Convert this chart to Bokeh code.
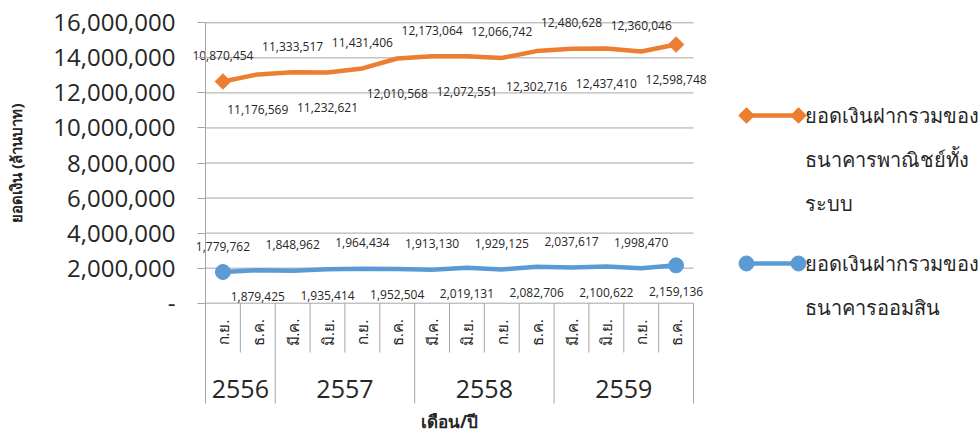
import numpy as np
from bokeh.plotting import figure
from bokeh.models import Range1d, FixedTicker, CustomJSTickFormatter, ColumnDataSource, LinearAxis
from bokeh.core.properties import value
from bokeh.embed import file_html
from bokeh.resources import INLINE

# ---------------- data ----------------
months = ["ก.ย.", "ธ.ค.",
          "มี.ค.", "มิ.ย.", "ก.ย.", "ธ.ค.",
          "มี.ค.", "มิ.ย.", "ก.ย.", "ธ.ค.",
          "มี.ค.", "มิ.ย.", "ก.ย.", "ธ.ค."]
years = ["2556", "2557", "2558", "2559"]
months_per_year = [2, 4, 4, 4]
commercial = [10870454, 11176569, 11333517, 11232621, 11431406, 12010568, 12173064,
              12072551, 12066742, 12302716, 12480628, 12437410, 12360046, 12598748]
gsb = [1779762, 1879425, 1848962, 1935414, 1964434, 1952504, 1913130,
       2019131, 1929125, 2082706, 2037617, 2100622, 1998470, 2159136]
y_ticks = [0, 2000000, 4000000, 6000000, 8000000, 10000000, 12000000, 14000000, 16000000]
series_commercial = ["ยอดเงินฝากรวมของ", "ธนาคารพาณิชย์ทั้ง", "ระบบ"]
series_gsb = ["ยอดเงินฝากรวมของ", "ธนาคารออมสิน"]
y_title = "ยอดเงิน (ล้านบาท)"
x_title = "เดือน/ปี"

# ---------------- style / layout ----------------
ORANGE = "#ED7D31"
BLUE = "#5B9BD5"
GRID = "#a6a6a6"
TEXT = "#262626"
FONT = "Open Sans"

W, H = 979, 436
AXIS_X = 205.0        # pixel of the value axis
RIGHT_X = 693.0       # pixel of the right end of the categories
TOP_Y = 22.3          # pixel of the top tick
ZERO_Y = 302.7        # pixel of zero
BOTTOM_Y = 403.0      # pixel of the bottom of the category boxes
n = len(months)
CAT_W = (RIGHT_X - AXIS_X) / n
Y_MAX = y_ticks[-1]
ppy = (ZERO_Y - TOP_Y) / Y_MAX


def dx(px):
    return (px - AXIS_X) / CAT_W - 0.5


def dy(py):
    return (ZERO_Y - py) / ppy


p = figure(width=W, height=H, x_range=Range1d(dx(0), dx(W)), y_range=Range1d(dy(H), dy(0)),
           output_backend="svg", toolbar_location=None, x_axis_location=None,
           y_axis_location=None, min_border=0)
p.outline_line_color = None
p.xgrid.grid_line_color = None
p.ygrid.grid_line_color = None

x_left = -0.5
x_right = n - 0.5
y_floor = dy(BOTTOM_Y)

# value axis (library axis placed at the category start)
yax = LinearAxis(fixed_location=x_left, bounds=(0, Y_MAX), ticker=FixedTicker(ticks=y_ticks),
                 formatter=CustomJSTickFormatter(
                     code="return tick == 0 ? '-' : Number(tick).toLocaleString('en-US');"))
yax.major_label_text_font = FONT
yax.major_label_text_font_size = "24px"
yax.major_label_text_color = TEXT
yax.major_tick_out = 8
yax.major_tick_in = 0
yax.minor_tick_line_color = None
yax.major_tick_line_color = GRID
yax.axis_line_color = GRID
yax.major_label_standoff = 22
yax.axis_label = y_title
yax.axis_label_text_font = FONT
yax.axis_label_text_font_size = "15px"
yax.axis_label_text_font_style = "bold"
yax.axis_label_text_color = TEXT
yax.axis_label_standoff = 24
p.add_layout(yax, "left")

# category axis title
xax = LinearAxis(fixed_location=y_floor, bounds=(x_left, x_right), ticker=FixedTicker(ticks=[]))
xax.axis_line_color = None
xax.major_tick_line_color = None
xax.minor_tick_line_color = None
xax.axis_label = x_title
xax.axis_label_text_font = FONT
xax.axis_label_text_font_size = "17px"
xax.axis_label_text_font_style = "bold"
xax.axis_label_text_color = TEXT
xax.axis_label_standoff = 6
p.add_layout(xax, "below")

idx = np.arange(n)

# grid lines (value area only)
p.segment(x0=[x_left] * len(y_ticks), y0=y_ticks, x1=[x_right] * len(y_ticks), y1=y_ticks,
          line_color=GRID, line_width=1)

# category axis boxes
year_bounds = np.concatenate([[0], np.cumsum(months_per_year)]) - 0.5
yb = set(year_bounds.tolist())
month_bounds = [i + 0.5 for i in range(n - 1) if (i + 0.5) not in yb]
p.segment(x0=month_bounds, y0=[0] * len(month_bounds), x1=month_bounds,
          y1=[dy(352)] * len(month_bounds), line_color=GRID, line_width=1)
p.segment(x0=year_bounds, y0=[0] * len(year_bounds), x1=year_bounds,
          y1=[y_floor] * len(year_bounds), line_color=GRID, line_width=1)

p.text(x=idx, y=[dy(332)] * n, text=months, angle=np.pi / 2, text_align="center",
       text_baseline="middle", text_font=value(FONT), text_font_size="15px", text_color=TEXT)
year_centers = [year_bounds[i] + months_per_year[i] / 2 for i in range(len(years))]
p.text(x=year_centers, y=[dy(388)] * len(years), text=years, text_align="center",
       text_baseline="middle", text_font=value(FONT), text_font_size="25px", text_color=TEXT)

# series (stacked line: commercial banks drawn on top of GSB)
stacked = [c + g for c, g in zip(commercial, gsb)]
p.line(idx, gsb, line_color=BLUE, line_width=4.5)
p.line(idx, stacked, line_color=ORANGE, line_width=4.5)
ends = [0, n - 1]
p.scatter([idx[i] for i in ends], [gsb[i] for i in ends], marker="circle", size=15,
          fill_color=BLUE, line_color=BLUE)
p.scatter([idx[i] for i in ends], [stacked[i] for i in ends], marker="square", size=11,
          angle=np.pi / 4, fill_color=ORANGE, line_color=ORANGE)

# data labels alternating above / below
src_o = ColumnDataSource(dict(x=idx, y=stacked, t=[f"{v:,}" for v in commercial],
                              off=[-26 if i % 2 == 0 else 35 for i in range(n)]))
p.text(x="x", y="y", text="t", y_offset="off", source=src_o, text_align="center",
       text_baseline="middle", text_font=value(FONT), text_font_size="12px", text_color=TEXT)
src_b = ColumnDataSource(dict(x=idx, y=gsb, t=[f"{v:,}" for v in gsb],
                              off=[-26 if i % 2 == 0 else 26 for i in range(n)]))
p.text(x="x", y="y", text="t", y_offset="off", source=src_b, text_align="center",
       text_baseline="middle", text_font=value(FONT), text_font_size="12px", text_color=TEXT)

# legend (right of the chart)
LEG_X0, LEG_X1, LEG_TX = 746, 798, 804
LINE_GAP = 44
for lines, color, top, marker, msize in [(series_commercial, ORANGE, 115, "square", 11),
                                         (series_gsb, BLUE, 263, "circle", 15)]:
    p.line([dx(LEG_X0), dx(LEG_X1)], [dy(top), dy(top)], line_color=color, line_width=4.5)
    p.scatter([dx(LEG_X0), dx(LEG_X1)], [dy(top), dy(top)], marker=marker, size=msize,
              angle=np.pi / 4 if marker == "square" else 0, fill_color=color, line_color=color)
    p.text(x=[dx(LEG_TX)] * len(lines), y=[dy(top + k * LINE_GAP) for k in range(len(lines))],
           text=lines, text_align="left", text_baseline="middle", text_font=value(FONT),
           text_font_size="20px", text_color=TEXT)

open("out.html", "w").write(file_html(p, INLINE))
